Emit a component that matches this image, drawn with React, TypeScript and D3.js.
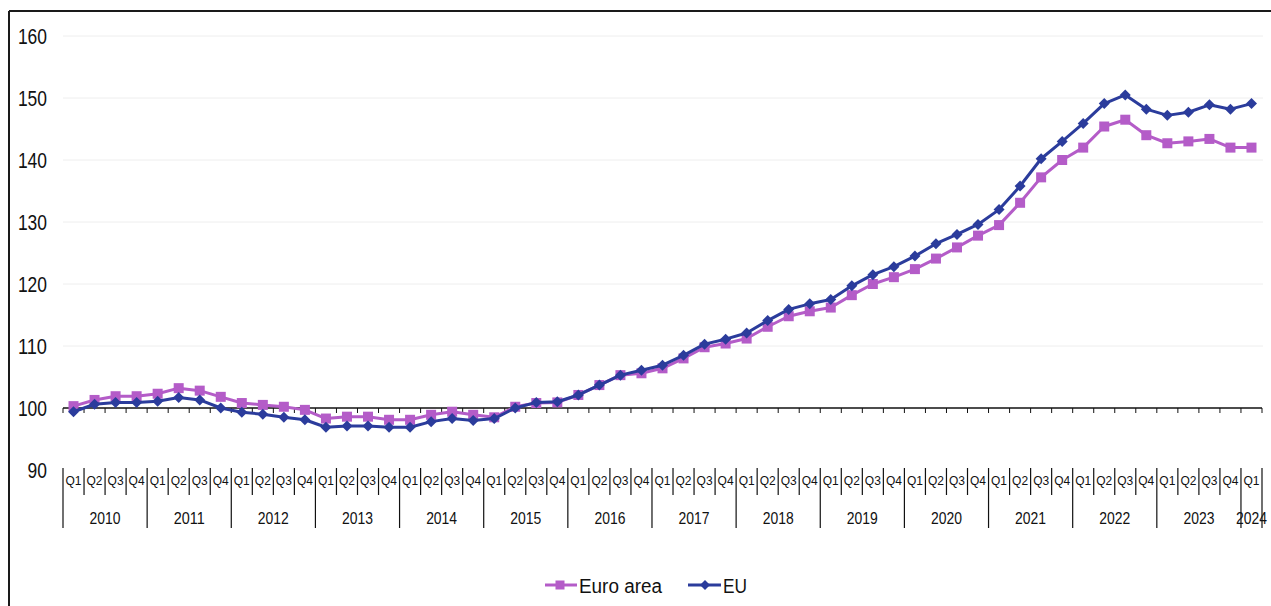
import React from "react";
import * as d3 from "d3";

const years = ["2010","2011","2012","2013","2014","2015","2016","2017","2018","2019","2020","2021","2022","2023","2024"];
const quarterNames = ["Q1","Q2","Q3","Q4"];
const yTicks = [90, 100, 110, 120, 130, 140, 150, 160];

const euroArea = [
  100.3, 101.3, 101.9, 101.9,
  102.3, 103.2, 102.8, 101.8,
  100.8, 100.5, 100.2, 99.7,
  98.3, 98.6, 98.6, 98.1,
  98.1, 98.9, 99.4, 98.9,
  98.5, 100.2, 100.8, 100.9,
  102.1, 103.7, 105.3, 105.6,
  106.4, 108.0, 109.8, 110.4,
  111.2, 113.1, 114.8, 115.6,
  116.2, 118.2, 120.0, 121.1,
  122.4, 124.1, 125.9, 127.8,
  129.5, 133.1, 137.2, 140.0,
  142.0, 145.4, 146.5, 144.0,
  142.7, 143.0, 143.4, 142.0,
  142.0,
];

const eu = [
  99.4, 100.6, 100.9, 100.9,
  101.1, 101.7, 101.3, 100.0,
  99.3, 99.0, 98.5, 98.1,
  96.9, 97.1, 97.1, 96.9,
  96.9, 97.8, 98.3, 98.0,
  98.3, 100.0, 100.9, 101.0,
  102.1, 103.7, 105.3, 106.1,
  106.9, 108.5, 110.3, 111.1,
  112.1, 114.1, 115.9, 116.8,
  117.5, 119.7, 121.5, 122.8,
  124.5, 126.5, 128.0, 129.6,
  132.0, 135.8, 140.2, 143.0,
  145.9, 149.1, 150.5, 148.2,
  147.2, 147.7, 148.9, 148.2,
  149.1,
];

const categories: { key: string; q: string; year: string }[] = [];
years.forEach((y) => {
  quarterNames.forEach((q) => {
    if (categories.length < euroArea.length) categories.push({ key: `${y}-${q}`, q, year: y });
  });
});

const PURPLE = "#B45CC8";
const BLUE = "#2B3C9C";
const FONT = "'Liberation Sans Narrow', 'Liberation Sans', Arial, sans-serif";

export default function App() {
  const W = 1271, H = 606;
  const x = d3.scaleBand<string>().domain(categories.map((c) => c.key)).range([63, 1262]).padding(0);
  const y = d3.scaleLinear().domain([90, 160]).range([470, 36]);
  const bw = x.bandwidth();
  const cx = (i: number) => (x(categories[i].key) as number) + bw / 2;
  const line = d3.line<number>().x((_, i) => cx(i)).y((d) => y(d));
  const boundaries = d3.range(categories.length + 1).map((k) => 63 + k * bw);

  const yearGroups = years.map((yr) => {
    const idx = categories.map((c, i) => (c.year === yr ? i : -1)).filter((i) => i >= 0);
    const x0 = x(categories[idx[0]].key) as number;
    const x1 = (x(categories[idx[idx.length - 1]].key) as number) + bw;
    return { yr, x0, x1 };
  });

  const diamond = (px: number, py: number, r: number) =>
    `M${px},${py - r}L${px + r},${py}L${px},${py + r}L${px - r},${py}Z`;

  return (
    <svg width={W} height={H} style={{ position: "absolute", left: 0, top: 0, background: "#fff" }} fontFamily={FONT}>
      <rect x={0} y={0} width={W} height={H} fill="#fff" />
      {/* frame */}
      <line x1={9} x2={W} y1={11} y2={11} stroke="#1a1a1a" strokeWidth={2} />
      <line x1={9} x2={9} y1={11} y2={H} stroke="#1a1a1a" strokeWidth={2} />

      {/* gridlines */}
      {yTicks.filter((t) => t > 100).map((t) => (
        <line key={t} x1={63} x2={1263} y1={y(t)} y2={y(t)} stroke="#eeeeee" strokeWidth={1} />
      ))}

      {/* y labels */}
      {yTicks.map((t) => (
        <text key={t} x={47} y={y(t) + 8} textAnchor="end" fontSize={22} fill="#111"
          textLength={String(t).length * 9.7} lengthAdjust="spacingAndGlyphs">{t}</text>
      ))}

      {/* axis at 100 */}
      <line x1={63} x2={1262} y1={y(100)} y2={y(100)} stroke="#111" strokeWidth={1.5} />
      {boundaries.map((bx, k) => (
        <line key={k} x1={bx} x2={bx} y1={y(100)} y2={y(100) + 5} stroke="#111" strokeWidth={1} />
      ))}

      {/* category separators */}
      {boundaries.map((bx, k) => {
        const isYear = k % 4 === 0 || k === categories.length;
        return (
          <line key={"s" + k} x1={bx} x2={bx} y1={468} y2={isYear ? 528 : 495} stroke="#111" strokeWidth={1.2} />
        );
      })}

      {/* quarter labels */}
      {categories.map((c, i) => (
        <text key={"q" + c.key} x={cx(i)} y={484.5} textAnchor="middle" fontSize={13.5} fill="#111"
          textLength={16} lengthAdjust="spacingAndGlyphs">{c.q}</text>
      ))}

      {/* year labels */}
      {yearGroups.map((g) => (
        <text key={g.yr} x={(g.x0 + g.x1) / 2} y={524} textAnchor="middle" fontSize={17} fill="#111"
          textLength={31} lengthAdjust="spacingAndGlyphs">{g.yr}</text>
      ))}

      {/* Euro area */}
      <path d={line(euroArea) || ""} fill="none" stroke={PURPLE} strokeWidth={3} strokeLinejoin="round" />
      {euroArea.map((v, i) => (
        <rect key={"ea" + i} x={cx(i) - 5} y={y(v) - 5} width={10} height={10} fill={PURPLE} />
      ))}

      {/* EU */}
      <path d={line(eu) || ""} fill="none" stroke={BLUE} strokeWidth={3} strokeLinejoin="round" />
      {eu.map((v, i) => (
        <path key={"eu" + i} d={diamond(cx(i), y(v), 5.5)} fill={BLUE} />
      ))}

      {/* legend */}
      <line x1={545} x2={577} y1={585} y2={585} stroke={PURPLE} strokeWidth={3} />
      <rect x={555.5} y={580.5} width={9} height={9} fill={PURPLE} />
      <text x={579} y={593} fontSize={20} fill="#111" textLength={83} lengthAdjust="spacingAndGlyphs">Euro area</text>
      <line x1={688} x2={721} y1={585} y2={585} stroke={BLUE} strokeWidth={3} />
      <path d={diamond(705, 585, 5)} fill={BLUE} />
      <text x={723} y={593} fontSize={20} fill="#111" textLength={24} lengthAdjust="spacingAndGlyphs">EU</text>
    </svg>
  );
}
